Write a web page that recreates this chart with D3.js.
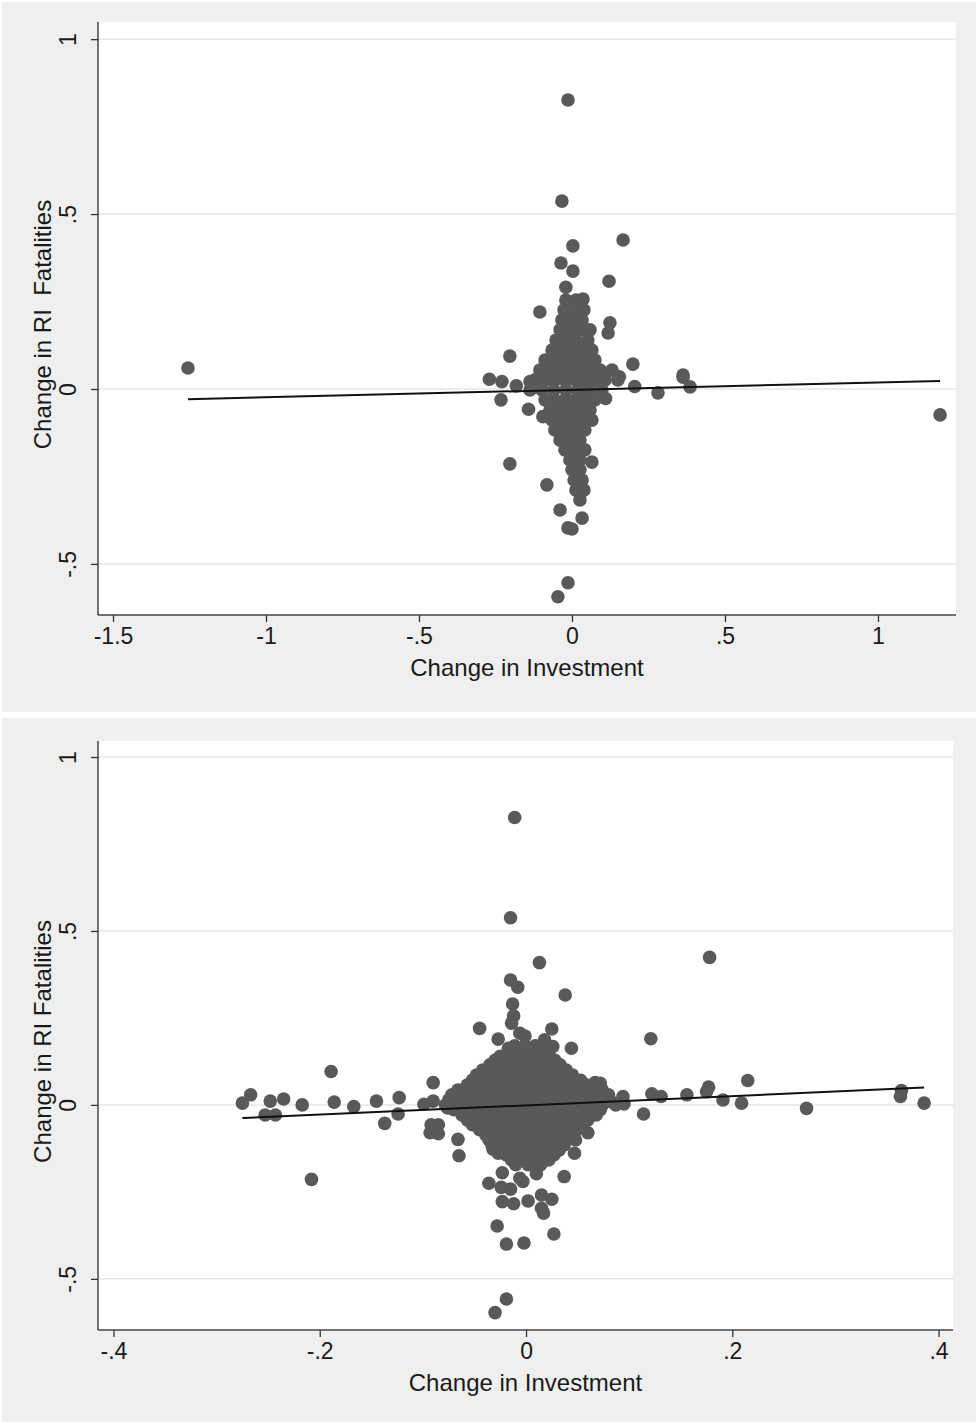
<!DOCTYPE html>
<html>
<head>
<meta charset="utf-8">
<script src="https://cdn.jsdelivr.net/npm/d3@7"></script>
<style>
  body { margin: 0; background: #ffffff; }
  svg { display: block; }
</style>
</head>
<body>
<div id="chart"></div>
<script>
var width = 980;
var height = 1426;

// ---- data: top panel (all observations) ----
var outliersTop = [[-1.255, 0.060], [1.203, -0.074]];

var spreadTop = [
  [-0.013, 0.826], [-0.033, 0.537], [0.003, 0.409], [-0.036, 0.360], [0.003, 0.337],
  [0.167, 0.426], [0.121, 0.308], [-0.020, 0.291], [0.036, 0.257], [-0.105, 0.220],
  [0.124, 0.189], [0.118, 0.160], [-0.203, 0.094], [0.199, 0.071], [0.281, -0.011],
  [0.363, 0.034], [0.386, 0.006], [-0.203, -0.214], [0.065, -0.209], [-0.082, -0.274],
  [-0.039, -0.346], [0.033, -0.369], [-0.013, -0.397], [0.000, -0.400], [-0.013, -0.554],
  [-0.046, -0.594], [-0.270, 0.028], [-0.229, 0.021], [-0.182, 0.009], [-0.232, -0.031],
  [-0.137, 0.021], [-0.142, -0.058], [-0.095, -0.079], [-0.062, 0.107], [0.205, 0.007],
  [0.110, -0.027], [0.155, 0.035], [0.363, 0.040]
];

var coreTop = [
  [-0.020, 0.254], [0.013, 0.254],
  [-0.026, 0.226], [0.007, 0.226], [0.039, 0.226],
  [-0.033, 0.197], [0.000, 0.197], [0.033, 0.197],
  [-0.039, 0.169], [-0.007, 0.169], [0.026, 0.169], [0.059, 0.169],
  [-0.052, 0.140], [-0.020, 0.140], [0.013, 0.140], [0.052, 0.140],
  [-0.065, 0.111], [-0.033, 0.111], [0.000, 0.111], [0.033, 0.111], [0.065, 0.111],
  [-0.088, 0.083], [-0.056, 0.083], [-0.023, 0.083], [0.010, 0.083], [0.042, 0.083], [0.075, 0.083],
  [-0.105, 0.054], [-0.072, 0.054], [-0.039, 0.054], [-0.007, 0.054], [0.026, 0.054], [0.059, 0.054], [0.092, 0.054], [0.131, 0.054],
  [-0.121, 0.026], [-0.088, 0.026], [-0.056, 0.026], [-0.023, 0.026], [0.010, 0.026], [0.042, 0.026], [0.075, 0.026], [0.108, 0.026], [0.150, 0.026],
  [-0.137, -0.003], [-0.098, -0.003], [-0.059, -0.003], [-0.020, -0.003], [0.020, -0.003], [0.059, -0.003], [0.098, -0.003],
  [-0.088, -0.031], [-0.056, -0.031], [-0.023, -0.031], [0.010, -0.031], [0.042, -0.031], [0.075, -0.031],
  [-0.072, -0.060], [-0.039, -0.060], [-0.007, -0.060], [0.026, -0.060], [0.059, -0.060],
  [-0.065, -0.089], [-0.033, -0.089], [0.000, -0.089], [0.033, -0.089], [0.065, -0.089],
  [-0.056, -0.117], [-0.023, -0.117], [0.010, -0.117], [0.042, -0.117],
  [-0.039, -0.146], [-0.007, -0.146], [0.026, -0.146],
  [-0.023, -0.174], [0.010, -0.174], [0.042, -0.174],
  [-0.007, -0.203], [0.026, -0.203],
  [0.000, -0.231], [0.026, -0.231],
  [0.007, -0.260], [0.033, -0.260],
  [0.013, -0.289], [0.039, -0.289],
  [0.026, -0.317]
];

// ---- data: bottom panel (outliers dropped) ----
var spreadBottom = [
  // left wing
  [-0.275, 0.005], [-0.267, 0.029], [-0.253, -0.029], [-0.243, -0.029], [-0.248, 0.011],
  [-0.235, 0.017], [-0.217, 0.000], [-0.189, 0.096], [-0.186, 0.008], [-0.167, -0.005],
  [-0.208, -0.214], [-0.145, 0.011], [-0.137, -0.053], [-0.123, 0.021], [-0.124, -0.026],
  [-0.099, 0.002], [-0.090, 0.064], [-0.090, 0.011], [-0.092, -0.057], [-0.085, -0.057],
  [-0.093, -0.080], [-0.085, -0.083], [-0.066, -0.099], [-0.065, -0.146], [-0.076, -0.009],
  [-0.066, 0.009], [-0.062, -0.009], [-0.054, 0.057],
  // upper column
  [-0.011, 0.826], [-0.015, 0.538], [0.013, 0.409], [-0.015, 0.359], [-0.008, 0.338],
  [0.038, 0.316], [-0.013, 0.290], [-0.012, 0.256], [-0.014, 0.235], [-0.045, 0.220],
  [-0.006, 0.206], [-0.001, 0.198], [-0.027, 0.189], [0.025, 0.218], [0.044, 0.163],
  [0.018, 0.187], [0.026, 0.168], [-0.017, 0.163], [0.010, 0.163], [0.041, 0.086],
  [-0.035, 0.108], [0.067, 0.064],
  // lower column
  [0.060, -0.080], [0.047, -0.139], [0.048, -0.101], [0.037, -0.206], [-0.023, -0.195],
  [-0.036, -0.225], [-0.024, -0.237], [-0.015, -0.242], [-0.006, -0.211], [-0.003, -0.220],
  [0.010, -0.198], [-0.023, -0.278], [-0.012, -0.284], [0.002, -0.276], [0.015, -0.259],
  [0.025, -0.271], [0.015, -0.297], [0.017, -0.311], [-0.028, -0.348], [0.027, -0.371],
  [-0.019, -0.400], [-0.002, -0.397], [-0.019, -0.558], [-0.030, -0.597], [-0.032, -0.127],
  [-0.027, -0.139], [-0.014, -0.153], [0.014, -0.172], [0.023, -0.120], [0.020, -0.134],
  [-0.048, -0.045],
  // right wing
  [0.178, 0.424], [0.121, 0.190], [0.215, 0.070], [0.177, 0.051], [0.175, 0.038],
  [0.191, 0.014], [0.209, 0.005], [0.272, -0.010], [0.156, 0.029], [0.122, 0.032],
  [0.131, 0.024], [0.114, -0.026], [0.094, 0.024], [0.095, 0.003], [0.078, 0.027],
  [0.083, 0.009], [0.072, 0.062], [0.072, 0.006], [0.364, 0.041], [0.363, 0.024],
  [0.386, 0.005]
];

var coreBottom = [
  [-0.011, 0.170], [-0.001, 0.170], [0.009, 0.170], [0.018, 0.170],
  [-0.025, 0.140], [-0.016, 0.140], [-0.006, 0.140], [0.004, 0.140], [0.014, 0.140], [0.023, 0.140],
  [-0.035, 0.115], [-0.025, 0.115], [-0.014, 0.115], [-0.002, 0.115], [0.010, 0.115], [0.021, 0.115], [0.033, 0.115],
  [-0.048, 0.086], [-0.037, 0.086], [-0.025, 0.086], [-0.014, 0.086], [-0.002, 0.086], [0.010, 0.086], [0.021, 0.086], [0.033, 0.086], [0.045, 0.086],
  [-0.057, 0.057], [-0.046, 0.057], [-0.034, 0.057], [-0.022, 0.057], [-0.011, 0.057], [0.001, 0.057], [0.013, 0.057], [0.024, 0.057], [0.036, 0.057], [0.048, 0.057], [0.059, 0.057],
  [-0.072, 0.029], [-0.060, 0.029], [-0.048, 0.029], [-0.037, 0.029], [-0.025, 0.029], [-0.014, 0.029], [-0.002, 0.029], [0.010, 0.029], [0.021, 0.029], [0.033, 0.029], [0.045, 0.029], [0.056, 0.029], [0.068, 0.029], [0.080, 0.029],
  [-0.078, 0.000], [-0.066, 0.000], [-0.054, 0.000], [-0.043, 0.000], [-0.031, 0.000], [-0.019, 0.000], [-0.008, 0.000], [0.004, 0.000], [0.016, 0.000], [0.027, 0.000], [0.039, 0.000], [0.050, 0.000], [0.062, 0.000], [0.074, 0.000], [0.087, 0.000],
  [-0.062, -0.029], [-0.050, -0.029], [-0.039, -0.029], [-0.027, -0.029], [-0.016, -0.029], [-0.004, -0.029], [0.008, -0.029], [0.019, -0.029], [0.031, -0.029], [0.043, -0.029], [0.054, -0.029], [0.068, -0.029],
  [-0.052, -0.057], [-0.041, -0.057], [-0.029, -0.057], [-0.017, -0.057], [-0.006, -0.057], [0.006, -0.057], [0.017, -0.057], [0.029, -0.057], [0.041, -0.057], [0.054, -0.057],
  [-0.039, -0.086], [-0.027, -0.086], [-0.016, -0.086], [-0.004, -0.086], [0.008, -0.086], [0.019, -0.086], [0.031, -0.086], [0.043, -0.086],
  [-0.033, -0.115], [-0.021, -0.115], [-0.010, -0.115], [0.002, -0.115], [0.014, -0.115], [0.025, -0.115], [0.037, -0.115],
  [-0.019, -0.144], [-0.008, -0.144], [0.004, -0.144], [0.016, -0.144], [0.027, -0.144],
  [-0.010, -0.172], [0.002, -0.172], [0.014, -0.172]
];

// points lying between the rows of the dense core
var coreBottomFill = [
  [-0.006, 0.155], [0.004, 0.155], [0.014, 0.155],
  [-0.030, 0.128], [-0.020, 0.128], [-0.008, 0.128], [0.004, 0.128], [0.016, 0.128], [0.028, 0.128],
  [-0.042, 0.100], [-0.031, 0.100], [-0.019, 0.100], [-0.008, 0.100], [0.004, 0.100], [0.016, 0.100], [0.027, 0.100], [0.039, 0.100],
  [-0.052, 0.071], [-0.040, 0.071], [-0.028, 0.071], [-0.017, 0.071], [-0.005, 0.071], [0.007, 0.071], [0.018, 0.071], [0.030, 0.071], [0.042, 0.071], [0.053, 0.071],
  [-0.066, 0.043], [-0.054, 0.043], [-0.043, 0.043], [-0.031, 0.043], [-0.019, 0.043], [-0.008, 0.043], [0.004, 0.043], [0.016, 0.043], [0.027, 0.043], [0.039, 0.043], [0.050, 0.043], [0.062, 0.043], [0.074, 0.043],
  [-0.075, 0.014], [-0.063, 0.014], [-0.051, 0.014], [-0.040, 0.014], [-0.028, 0.014], [-0.016, 0.014], [-0.005, 0.014], [0.007, 0.014], [0.019, 0.014], [0.030, 0.014], [0.042, 0.014], [0.053, 0.014], [0.065, 0.014], [0.078, 0.014],
  [-0.070, -0.014], [-0.056, -0.014], [-0.045, -0.014], [-0.033, -0.014], [-0.021, -0.014], [-0.010, -0.014], [0.002, -0.014], [0.013, -0.014], [0.025, -0.014], [0.037, -0.014], [0.048, -0.014], [0.060, -0.014], [0.072, -0.014],
  [-0.057, -0.043], [-0.046, -0.043], [-0.034, -0.043], [-0.022, -0.043], [-0.011, -0.043], [0.001, -0.043], [0.013, -0.043], [0.024, -0.043], [0.036, -0.043], [0.048, -0.043], [0.060, -0.043],
  [-0.045, -0.071], [-0.033, -0.071], [-0.022, -0.071], [-0.010, -0.071], [0.002, -0.071], [0.013, -0.071], [0.025, -0.071], [0.037, -0.071], [0.049, -0.071],
  [-0.036, -0.100], [-0.024, -0.100], [-0.013, -0.100], [-0.001, -0.100], [0.011, -0.100], [0.022, -0.100], [0.034, -0.100],
  [-0.026, -0.130], [-0.014, -0.130], [-0.002, -0.130], [0.010, -0.130], [0.021, -0.130], [0.032, -0.130],
  [-0.014, -0.158], [-0.002, -0.158], [0.010, -0.158], [0.022, -0.158]
];

// fitted line: [slope, intercept]
var fitTop = [0.0212, -0.0024];
var fitBottom = [0.133, -0.0013];

// ticks
var yTicks = [-0.5, 0, 0.5, 1];
var yTickLabels = ["-.5", "0", ".5", "1"];
var xTicksTop = [-1.5, -1, -0.5, 0, 0.5, 1];
var xTickLabelsTop = ["-1.5", "-1", "-.5", "0", ".5", "1"];
var xTicksBottom = [-0.4, -0.2, 0, 0.2, 0.4];
var xTickLabelsBottom = ["-.4", "-.2", "0", ".2", ".4"];

var font = "'Liberation Sans', Arial, Helvetica, sans-serif";

var svg = d3.select("#chart").append("svg")
    .attr("width", width)
    .attr("height", height);

function drawPanel(p) {
    var g = svg.append("g");

    // grey panel background
    g.append("rect")
        .attr("x", 2).attr("y", p.top)
        .attr("width", width - 6).attr("height", p.bottom - p.top)
        .attr("fill", "#efefef");

    var x = d3.scaleLinear().domain(p.xDomain).range([p.left, p.right]);
    var y = d3.scaleLinear().domain(p.yDomain).range([p.plotBottom, p.plotTop]);

    // plot region
    g.append("rect")
        .attr("x", p.left).attr("y", p.plotTop)
        .attr("width", p.right - p.left).attr("height", p.plotBottom - p.plotTop)
        .attr("fill", "#ffffff");

    // gridlines
    g.selectAll(".grid").data(yTicks).enter().append("line")
        .attr("x1", p.left).attr("x2", p.right)
        .attr("y1", d => y(d)).attr("y2", d => y(d))
        .attr("stroke", "#e6e6e6")
        .attr("stroke-width", 1.5);

    // points
    g.selectAll(".pt").data(p.points).enter().append("circle")
        .attr("cx", d => x(d[0]))
        .attr("cy", d => y(d[1]))
        .attr("r", 6.8)
        .attr("fill", "#595959");

    // fit line over the data range
    var ext = d3.extent(p.points, d => d[0]);
    var fitLine = d3.line().x(d => x(d)).y(d => y(p.fit[0] * d + p.fit[1]));
    g.append("path")
        .attr("d", fitLine(ext))
        .attr("fill", "none")
        .attr("stroke", "#111")
        .attr("stroke-width", 2);

    // y axis
    var yAxis = d3.axisLeft(y).tickValues(yTicks).tickSize(7).tickFormat((d, i) => yTickLabels[i]);
    var ya = g.append("g")
        .attr("transform", "translate(" + p.left + ",0)")
        .call(yAxis);
    ya.select(".domain").remove();
    ya.selectAll(".tick line").attr("stroke", "#333").attr("stroke-width", 1.3);
    ya.selectAll(".tick text")
        .attr("x", 0).attr("dy", 0)
        .attr("transform", "translate(-22,0) rotate(-90)")
        .attr("text-anchor", "middle")
        .attr("fill", "#1a1a1a")
        .style("font-family", font)
        .style("font-size", "23px");
    g.append("line")
        .attr("x1", p.left).attr("x2", p.left)
        .attr("y1", p.plotTop).attr("y2", p.plotBottom)
        .attr("stroke", "#444").attr("stroke-width", 1.5);

    // x axis
    var xAxis = d3.axisBottom(x).tickValues(p.xTicks).tickSize(7).tickFormat((d, i) => p.xTickLabels[i]);
    var xa = g.append("g")
        .attr("transform", "translate(0," + p.plotBottom + ")")
        .call(xAxis);
    xa.select(".domain").remove();
    xa.selectAll(".tick line").attr("stroke", "#333").attr("stroke-width", 1.3);
    xa.selectAll(".tick text")
        .attr("y", 11).attr("dy", "0.8em")
        .attr("fill", "#1a1a1a")
        .style("font-family", font)
        .style("font-size", "23px");
    g.append("line")
        .attr("x1", p.left).attr("x2", p.right)
        .attr("y1", p.plotBottom).attr("y2", p.plotBottom)
        .attr("stroke", "#444").attr("stroke-width", 1.5);

    // titles
    g.append("text")
        .attr("x", (p.left + p.right) / 2)
        .attr("y", p.plotBottom + 61)
        .attr("text-anchor", "middle")
        .attr("fill", "#1a1a1a")
        .style("font-family", font)
        .style("font-size", "24px")
        .text("Change in Investment");

    g.append("text")
        .attr("transform", "translate(51," + ((p.plotTop + p.plotBottom) / 2 + 6) + ") rotate(-90)")
        .attr("text-anchor", "middle")
        .attr("fill", "#1a1a1a")
        .style("font-family", font)
        .style("font-size", "24px")
        .style("white-space", "pre")
        .text(p.yTitle);
}

drawPanel({
    top: 2, bottom: 712,
    left: 98, right: 956, plotTop: 22, plotBottom: 615,
    xDomain: [-1.549, 1.255], yDomain: [-0.646, 1.049],
    points: outliersTop.concat(spreadTop, coreTop),
    fit: fitTop,
    xTicks: xTicksTop, xTickLabels: xTickLabelsTop,
    yTitle: "Change in RI  Fatalities"
});

drawPanel({
    top: 718, bottom: 1422,
    left: 98, right: 953, plotTop: 741, plotBottom: 1330,
    xDomain: [-0.415, 0.414], yDomain: [-0.647, 1.046],
    points: spreadBottom.concat(coreBottom, coreBottomFill),
    fit: fitBottom,
    xTicks: xTicksBottom, xTickLabels: xTickLabelsBottom,
    yTitle: "Change in RI Fatalities"
});
</script>
</body>
</html>
